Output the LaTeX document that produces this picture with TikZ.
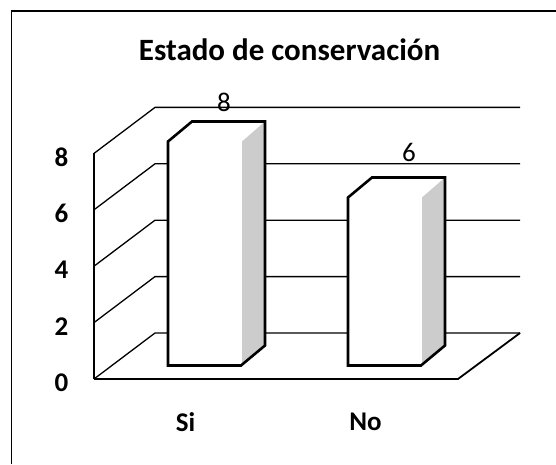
\documentclass[tikz,border=0pt]{standalone}
\usepackage{fontspec}
\setmainfont{Carlito}

\begin{document}
\begin{tikzpicture}[x=1pt,y=1pt,
  gridline/.style={line width=1.3pt},
  floorline/.style={line width=1.8pt},
  barbox/.style={line width=2.6pt,line join=miter},
  ticklab/.style={font=\bfseries\fontsize{27}{31}\selectfont},
  vallab/.style={font=\fontsize{27}{31}\selectfont}]
  \useasboundingbox (0,0) rectangle (556,464);
  % frame
  \draw[line width=1.8pt] (11.5,0) |- (556,453);
  \node[anchor=base,font=\bfseries\fontsize{31}{36}\selectfont] (title) at (289.5,403) {Estado de conservación};

  % back wall, side wall and tick labels
  \foreach \i in {0,2,4,6,8} {
    \coordinate (f\i) at (94,{85+28.2*\i});
    \coordinate (b\i) at (155,{131+28.2*\i});
    \coordinate (e\i) at (520,{131+28.2*\i});
    \draw[gridline] (f\i) -- (b\i) -- (e\i);
    \node[ticklab] (t\i) at (61.5,{81+28.2*\i}) {\i};
  }
  \draw[gridline] (f0) -- (f8);
  % floor
  \coordinate (fr) at (458,85);
  \draw[floorline] (f0) -- (fr) -- (e0);

  % bars
  \foreach \n/\x/\v/\lab/\vx/\vy in {si/168/8/Si/224/362, no/348/6/No/409/312} {
    \pgfmathsetmacro\bartop{98.5+28*\v}
    \fill[white] (\x,98.5) -- (\x,\bartop) -- ++(24,20) -- ({\x+97},{\bartop+20})
      -- ({\x+97},118.5) -- ({\x+73},98.5) -- cycle;
    \fill[gray!40] ({\x+74},98.5) -- ({\x+97},118.5) -- ({\x+97},{\bartop+20})
      -- ({\x+74},\bartop) -- cycle;
    \draw[barbox] (\x,98.5) -- (\x,\bartop) -- ++(24,20) -- ({\x+97},{\bartop+20})
      -- ({\x+97},118.5) -- ({\x+73},98.5) -- cycle;
    \node[vallab] (v\n) at (\vx,\vy) {\v};
    \node[ticklab] (c\n) at ({\x+17.5},42) {\lab};
  }
\end{tikzpicture}
\end{document}
